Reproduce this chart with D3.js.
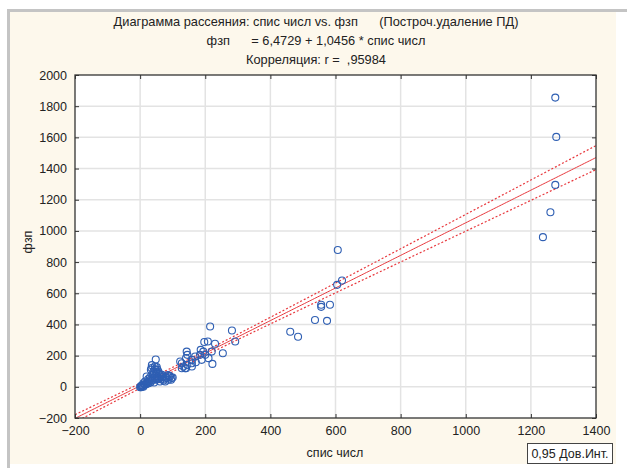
<!DOCTYPE html>
<html><head><meta charset="utf-8">
<script src="https://cdn.jsdelivr.net/npm/d3@7"></script>
<style>
body{margin:0;background:#fff;}
text{font-family:"Liberation Sans",Arial,sans-serif;fill:#222;}
</style></head>
<body>
<svg id="c" width="627" height="468"></svg>
<script>
// ---- data ----
const titleLines = ["Диаграмма рассеяния: спис числ vs. фзп      (Построч.удаление ПД)",
                    "фзп      = 6,4729 + 1,0456 * спис числ",
                    "Корреляция: r =  ,95984"];
const xLabel = "спис числ";
const yLabel = "фзп";
const legendText = "0,95 Дов.Инт.";
const xTicks = [-200,0,200,400,600,800,1000,1200,1400];
const yTicks = [-200,0,200,400,600,800,1000,1200,1400,1600,1800,2000];
const intercept = 6.4729;
const slope = 1.0456;
// confidence band half-width parameters
const ciCenterX = 130, ciMinHalf = 14, ciGrowth = 0.0596;

const spisChisl = [1275,1278,1275,1260,1237,607,605,620,
  556,556,583,537,574,461,485,
  215,282,292,230,197,208,254,222,210,186,220,200,143,145,141,169,184,159,128,133,123,145,159,141,128,171,159,189,194,138,
  48,36,46,33,51,59,41,67,82,92,95,72,51,31,26,15,5,0,10,43,61,51,41,56,67,97,87,77,20,15,10,5,26,46,56,72,
  2,8,12,18,22,28,35,38,44,50,55,62,30,25,40,48,53,35,45,3,6,20,32,60,70,80,85,90,100];
const fzp = [1855,1603,1295,1120,960,878,654,682,
  526,513,526,429,423,353,321,
  387,361,291,276,287,291,215,147,184,237,226,205,226,205,184,194,205,151,151,130,162,141,130,119,119,158,173,173,226,119,
  175,139,113,109,98,83,77,62,56,66,45,40,49,45,24,13,6,-2,0,28,34,126,98,98,77,56,45,34,66,34,23,8,23,45,49,66,
  3,10,15,20,30,35,40,55,60,70,60,75,60,50,85,90,110,120,130,-3,2,18,28,55,50,60,75,70,60];

// ---- layout ----
const svg = d3.select("#c");
const L=75, R=596, T=75, B=418;
const x = d3.scaleLinear().domain([-200,1400]).range([L,R]);
const y = d3.scaleLinear().domain([-200,2000]).range([B,T]);

// frame
svg.append("rect").attr("x",10).attr("y",12).attr("width",606).attr("height",452).attr("fill","#fdf8ec");
svg.append("line").attr("x1",7).attr("x2",627).attr("y1",10.5).attr("y2",10.5).attr("stroke","#c4c4c4").attr("stroke-width",3);
svg.append("line").attr("x1",8.5).attr("x2",8.5).attr("y1",9).attr("y2",468).attr("stroke","#c4c4c4").attr("stroke-width",3);

// plot bg
svg.append("rect").attr("x",L).attr("y",T).attr("width",R-L).attr("height",B-T).attr("fill","#fff");

// grid
svg.append("g").selectAll("line").data(xTicks.slice(1,-1)).join("line")
  .attr("x1",d=>x(d)).attr("x2",d=>x(d)).attr("y1",T).attr("y2",B)
  .attr("stroke","#e3e3e3").attr("stroke-width",1.5);
svg.append("g").selectAll("line").data(yTicks.slice(1,-1)).join("line")
  .attr("y1",d=>y(d)).attr("y2",d=>y(d)).attr("x1",L).attr("x2",R)
  .attr("stroke","#e3e3e3").attr("stroke-width",1.5);

// clip
svg.append("clipPath").attr("id","clip").append("rect").attr("x",L).attr("y",T).attr("width",R-L).attr("height",B-T);
const plot = svg.append("g").attr("clip-path","url(#clip)");

// regression + bands
const xs = d3.range(-200,1401,5);
const fit = v=>intercept+slope*v;
const hw = v=>Math.sqrt(ciMinHalf*ciMinHalf + ciGrowth*ciGrowth*(v-ciCenterX)*(v-ciCenterX));
const line = d3.line().x(d=>x(d[0])).y(d=>y(d[1]));
plot.append("path").attr("d",line(xs.map(v=>[v,fit(v)+hw(v)]))).attr("fill","none").attr("stroke","#e8383d").attr("stroke-width",1.2).attr("stroke-dasharray","2,2");
plot.append("path").attr("d",line(xs.map(v=>[v,fit(v)-hw(v)]))).attr("fill","none").attr("stroke","#e8383d").attr("stroke-width",1.2).attr("stroke-dasharray","2,2");
plot.append("path").attr("d",line(xs.map(v=>[v,fit(v)]))).attr("fill","none").attr("stroke","#e8383d").attr("stroke-width",1);

// points
plot.append("g").selectAll("circle").data(spisChisl.map((v,i)=>[v,fzp[i]])).join("circle")
  .attr("cx",d=>x(d[0])).attr("cy",d=>y(d[1])).attr("r",3.5)
  .attr("fill","none").attr("stroke","#2f5fb3").attr("stroke-width",1.1);

// border
svg.append("rect").attr("x",L).attr("y",T).attr("width",R-L).attr("height",B-T).attr("fill","none").attr("stroke","#333").attr("stroke-width",1.3);

// axes (inward ticks on all sides)
const ax = svg.append("g");
ax.append("g").attr("transform",`translate(0,${B})`).call(d3.axisBottom(x).tickValues(xTicks).tickSize(-4).tickPadding(8).tickFormat(d3.format("d")));
ax.append("g").attr("transform",`translate(0,${T})`).call(d3.axisTop(x).tickValues(xTicks).tickSize(-4).tickFormat(""));
ax.append("g").attr("transform",`translate(${L},0)`).call(d3.axisLeft(y).tickValues(yTicks).tickSize(-4).tickPadding(8).tickFormat(d3.format("d")));
ax.append("g").attr("transform",`translate(${R},0)`).call(d3.axisRight(y).tickValues(yTicks).tickSize(-4).tickFormat(""));
ax.selectAll(".domain").remove();
ax.selectAll(".tick line").attr("stroke","#333");
ax.selectAll(".tick text").attr("font-size",12.5).attr("fill","#222").style("font-family","Liberation Sans, Arial, sans-serif");

// titles
svg.append("g").selectAll("text").data(titleLines).join("text")
  .attr("x",316).attr("y",(d,i)=>26+i*19).attr("text-anchor","middle")
  .attr("font-size",12.8).style("white-space","pre").text(d=>d);
svg.append("text").attr("x",335).attr("y",457).attr("text-anchor","middle").attr("font-size",12.5).text(xLabel);
svg.append("text").attr("transform","translate(32,242) rotate(-90)").attr("text-anchor","middle").attr("font-size",12.5).text(yLabel);

// legend
svg.append("rect").attr("x",527.5).attr("y",443.5).attr("width",85).attr("height",20).attr("fill","#fff").attr("stroke","#444");
svg.append("text").attr("x",570).attr("y",458).attr("text-anchor","middle").attr("font-size",12.5).text(legendText);
</script>
</body></html>
